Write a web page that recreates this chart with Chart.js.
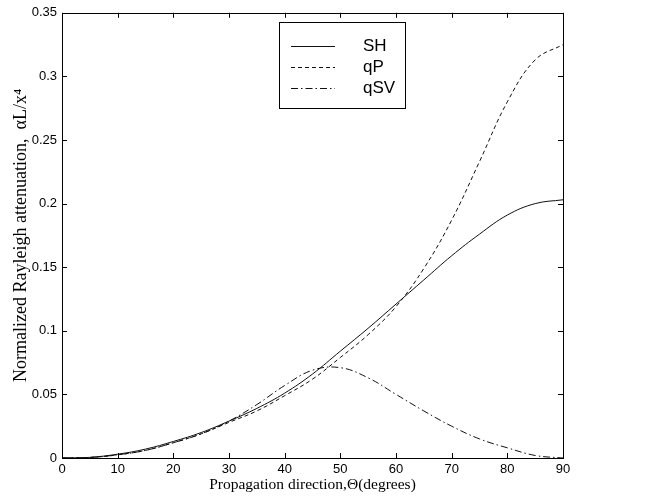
<!DOCTYPE html>
<html>
<head>
<meta charset="utf-8">
<script src="https://cdn.jsdelivr.net/npm/chart.js@4"></script>
<style>
  html, body { margin: 0; padding: 0; background: #fff; }
  #wrap { width: 649px; height: 497px; }
</style>
</head>
<body>
<div id="wrap"><canvas id="chart" width="649" height="497"></canvas></div>
<script>
// propagation angle (degrees)
const angles = [0, 5, 10, 15, 20, 25, 30, 35, 40, 45, 50, 55, 60, 65, 70, 75, 80, 85, 90];

// normalized attenuation
const shValues  = [0, 0.0005, 0.003, 0.007, 0.013, 0.020, 0.029, 0.039, 0.051, 0.066, 0.084, 0.102, 0.121, 0.140, 0.159, 0.176, 0.191, 0.200, 0.203];
const qpValues  = [0, 0.0004, 0.0025, 0.006, 0.012, 0.019, 0.028, 0.037, 0.049, 0.062, 0.079, 0.097, 0.119, 0.149, 0.187, 0.233, 0.280, 0.313, 0.325];
const qsvValues = [0, 0.0004, 0.0025, 0.006, 0.012, 0.019, 0.029, 0.042, 0.057, 0.069, 0.071, 0.063, 0.050, 0.037, 0.025, 0.015, 0.008, 0.002, 0];

const seriesNames = ['SH', 'qP', 'qSV'];
const xTickLabels = ['0', '10', '20', '30', '40', '50', '60', '70', '80', '90'];
const yTickLabels = ['0', '0.05', '0.1', '0.15', '0.2', '0.25', '0.3', '0.35'];

const lineColor = '#111';

function toPoints(vals) {
    return angles.map((a, i) => ({ x: a, y: vals[i] }));
}

// matlab style: box around the axes, ticks pointing inward
const boxTicks = {
    id: 'boxTicks',
    afterDraw(chart) {
        const ctx = chart.ctx;
        const a = chart.chartArea;
        const xs = chart.scales.x, ys = chart.scales.y;
        const len = 5;
        ctx.save();
        ctx.strokeStyle = '#000';
        ctx.lineWidth = 1;
        ctx.strokeRect(Math.round(a.left) + 0.5, Math.round(a.top) + 0.5,
                       Math.round(a.right - a.left), Math.round(a.bottom - a.top));
        ctx.beginPath();
        xs.ticks.forEach(t => {
            const px = Math.round(xs.getPixelForValue(t.value)) + 0.5;
            ctx.moveTo(px, a.bottom); ctx.lineTo(px, a.bottom - len);
            ctx.moveTo(px, a.top); ctx.lineTo(px, a.top + len);
        });
        ys.ticks.forEach(t => {
            const py = Math.round(ys.getPixelForValue(t.value)) + 0.5;
            ctx.moveTo(a.left, py); ctx.lineTo(a.left + len, py);
            ctx.moveTo(a.right, py); ctx.lineTo(a.right - len, py);
        });
        ctx.stroke();
        ctx.restore();
    }
};

// legend box drawn inside the axes, like the original
const boxLegend = {
    id: 'boxLegend',
    afterDraw(chart) {
        const ctx = chart.ctx;
        const bx = 279, by = 22, bw = 126, bh = 86;
        ctx.save();
        ctx.fillStyle = '#fff';
        ctx.fillRect(bx, by, bw, bh);
        ctx.strokeStyle = '#000';
        ctx.lineWidth = 1;
        ctx.strokeRect(bx + 0.5, by + 0.5, bw, bh);
        ctx.font = '17px "Liberation Sans", Arial, sans-serif';
        ctx.textBaseline = 'middle';
        ctx.fillStyle = '#000';
        chart.data.datasets.forEach((ds, i) => {
            const y = by + 24 + i * 21 + 0.5;
            ctx.setLineDash(ds.borderDash || []);
            ctx.strokeStyle = ds.borderColor;
            ctx.beginPath();
            ctx.moveTo(bx + 12, y);
            ctx.lineTo(bx + 56, y);
            ctx.stroke();
            ctx.setLineDash([]);
            ctx.fillText(ds.label, bx + 84, y);
        });
        ctx.restore();
    }
};

const dashes = [[], [4, 3], [7, 3, 1.5, 3]];
const values = [shValues, qpValues, qsvValues];

new Chart(document.getElementById('chart'), {
    type: 'line',
    data: {
        datasets: seriesNames.map((name, i) => ({
            label: name,
            data: toPoints(values[i]),
            borderColor: lineColor,
            borderWidth: 1,
            borderDash: dashes[i],
            pointRadius: 0,
            tension: 0.4,
            fill: false
        }))
    },
    options: {
        responsive: false,
        animation: false,
        layout: { padding: { top: 8, right: 86, left: 0, bottom: 0 } },
        plugins: { legend: { display: false }, tooltip: { enabled: false } },
        scales: {
            x: {
                type: 'linear', min: 0, max: 90,
                grid: { display: false, drawTicks: false },
                border: { display: false },
                ticks: {
                    stepSize: 10, padding: 4, color: '#000',
                    font: { family: '"Liberation Sans", Arial, sans-serif', size: 13 },
                    callback: (v) => xTickLabels[Math.round(v / 10)]
                },
                title: {
                    display: true, text: 'Propagation direction,\u0398(degrees)', color: '#000',
                    font: { family: '"Liberation Serif", "Times New Roman", serif', size: 15.5 },
                    padding: { top: 0, bottom: 3 }
                },
                afterFit: (s) => { s.height = 39; }
            },
            y: {
                type: 'linear', min: 0, max: 0.35,
                grid: { display: false, drawTicks: false },
                border: { display: false },
                ticks: {
                    stepSize: 0.05, padding: 5, color: '#000',
                    font: { family: '"Liberation Sans", Arial, sans-serif', size: 13 },
                    callback: (v) => yTickLabels[Math.round(v / 0.05)]
                },
                title: {
                    display: true, text: 'Normalized Rayleigh attenuation,  \u03b1L/x\u2074', color: '#000',
                    font: { family: '"Liberation Serif", "Times New Roman", serif', size: 18 },
                    padding: { top: 10, bottom: 0 }
                },
                afterFit: (s) => { s.width = 62; }
            }
        }
    },
    plugins: [boxTicks, boxLegend]
});
</script>
</body>
</html>
